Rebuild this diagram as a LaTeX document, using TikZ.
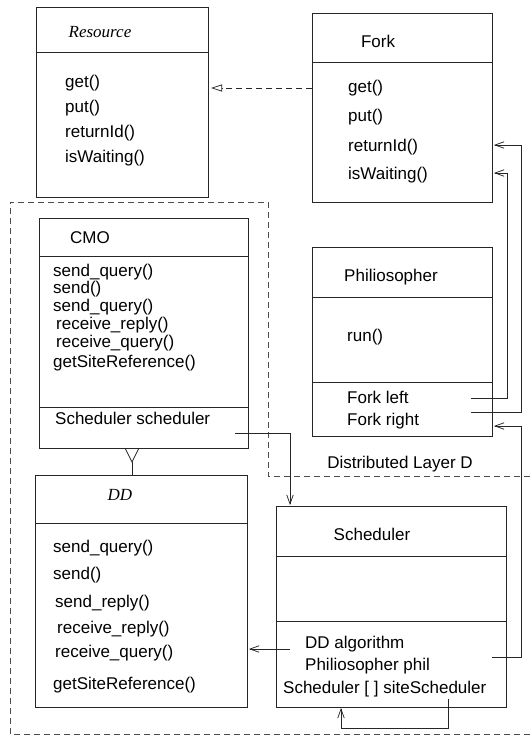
\documentclass[tikz,border=0pt]{standalone}
\usepackage{fontspec}
\setmainfont{Liberation Sans}
\newfontfamily\tmsfont{Liberation Serif}
\usetikzlibrary{arrows.meta}
\tikzset{
  ln/.style={line width=0.75pt, draw=black!85},
  classbox/.style={ln, anchor=north west, inner sep=0pt, fill=none},
  txt/.style={anchor=west, inner sep=0pt, text height=12.5pt, text depth=3.5pt, font=\fontsize{17}{20}\selectfont},
  ttl/.style={anchor=center, inner sep=0pt, text height=12.5pt, text depth=3.5pt, font=\fontsize{17}{20}\selectfont},
  ittl/.style={anchor=center, inner sep=0pt, text height=12.5pt, text depth=3.5pt, font=\fontsize{17}{20}\selectfont\tmsfont\itshape},
  barb/.style={ln, -{Straight Barb[length=9pt,width=6.5pt]}},
  realize/.style={ln, dash pattern=on 6pt off 4pt, -{Triangle[open,length=11pt,width=7pt]}},
  region/.style={line width=0.75pt, draw=black!70, dash pattern=on 6pt off 4pt},
}
\begin{document}
\begin{tikzpicture}[x=1pt,y=-1pt]
\useasboundingbox (0,0) rectangle (530,736);

% ---------- Resource ----------
\node[classbox, minimum width=172pt, minimum height=190pt] (res) at (36,7) {};
\draw[ln] (36,52) -- (208,52);
\node[ittl] (resT) at (100,33) {Resource};
\node[txt] (resA) at (65,83) {get()};
\node[txt] (resB) at (65,108) {put()};
\node[txt] (resC) at (65,133) {returnId()};
\node[txt] (resD) at (65,158) {isWaiting()};

% ---------- Fork ----------
\node[classbox, minimum width=180pt, minimum height=189pt] (fork) at (312,13) {};
\draw[ln] (312,62) -- (492,62);
\node[ttl] (forkT) at (378,43) {Fork};
\node[txt] (forkA) at (348,88) {get()};
\node[txt] (forkB) at (348,117) {put()};
\node[txt] (forkC) at (348,147) {returnId()};
\node[txt] (forkD) at (348,175) {isWaiting()};

% ---------- distributed layer region ----------
\draw[region] (530,476) -- (268,476) -- (268,202) -- (10,202) -- (10,734) -- (530,734);
\node[ttl] (layer) at (400,464) {Distributed Layer D};

% ---------- CMO ----------
\node[classbox, minimum width=209pt, minimum height=230pt] (cmo) at (39,218) {};
\draw[ln] (39,256) -- (248,256);
\draw[ln] (39,407) -- (248,407);
\node[ttl] (cmoT) at (90,239) {CMO};
\node[txt] (cmoA) at (53,272) {send\_query()};
\node[txt] (cmoB) at (53,289) {send()};
\node[txt] (cmoC) at (53,307) {send\_query()};
\node[txt] (cmoD) at (56,325) {receive\_reply()};
\node[txt] (cmoE) at (56,343) {receive\_query()};
\node[txt] (cmoF) at (53,363) {getSiteReference()};
\node[txt] (cmoG) at (55,420) {Scheduler scheduler};

% ---------- Philosopher ----------
\node[classbox, minimum width=180pt, minimum height=189pt] (phil) at (312,247) {};
\draw[ln] (312,297) -- (492,297);
\draw[ln] (312,382) -- (492,382);
\node[ttl] (philT) at (391,277) {Philiosopher};
\node[txt] (philA) at (347,337) {run()};
\node[txt] (philB) at (347,399) {Fork left};
\node[txt] (philC) at (347,421) {Fork right};

% ---------- DD ----------
\node[classbox, minimum width=212pt, minimum height=232pt] (dd) at (35,475) {};
\draw[ln] (35,523) -- (247,523);
\node[ittl] (ddT) at (120,496) {DD};
\node[txt] (ddA) at (53,548) {send\_query()};
\node[txt] (ddB) at (53,575) {send()};
\node[txt] (ddC) at (55,603) {send\_reply()};
\node[txt] (ddD) at (57,629) {receive\_reply()};
\node[txt] (ddE) at (55,653) {receive\_query()};
\node[txt] (ddF) at (53,685) {getSiteReference()};

% ---------- Scheduler ----------
\node[classbox, minimum width=230pt, minimum height=201pt] (sch) at (276,506) {};
\draw[ln] (276,556) -- (506,556);
\draw[ln] (276,621) -- (506,621);
\node[ttl] (schT) at (372,536) {Scheduler};
\node[txt] (schA) at (305,644) {DD algorithm};
\node[txt] (schB) at (305,666) {Philiosopher phil};
\node[txt] (schC) at (283,689) {Scheduler [ ] siteScheduler};

% ---------- connector end points ----------
\coordinate (forkOut) at (312,88);
\coordinate (resIn) at (211,88);
\coordinate (flS) at (471,398);
\coordinate (flC) at (507,398);
\coordinate (flE) at (494,173);
\coordinate (frS) at (471,412);
\coordinate (frC) at (521,412);
\coordinate (frE) at (494,145);
\coordinate (spS) at (492,657);
\coordinate (spC) at (521,657);
\coordinate (spE) at (494,426);
\coordinate (csS) at (235,433);
\coordinate (csC) at (290,433);
\coordinate (csE) at (290,505);
\coordinate (ddS) at (290,649);
\coordinate (ddE) at (249,649);
\coordinate (slS) at (448,699);
\coordinate (slA) at (448,728);
\coordinate (slB) at (341,728);
\coordinate (slE) at (341,708);
\coordinate (yStem) at (132,475);
\coordinate (yJoin) at (132,462);
\coordinate (yL) at (125,448);
\coordinate (yR) at (139,448);

% ---------- connectors ----------
\draw[realize] (forkOut) -- (resIn);
\draw[barb] (flS) -- (flC) -- (flC |- flE) -- (flE);
\draw[barb] (frS) -- (frC) -- (frC |- frE) -- (frE);
\draw[barb] (spS) -- (spC) -- (spC |- spE) -- (spE);
\draw[barb] (csS) -- (csC) -- (csE);
\draw[barb] (ddS) -- (ddE);
\draw[barb] (slS) -- (slA) -- (slB) -- (slE);
\draw[ln] (yStem) -- (yJoin);
\draw[ln] (yL) -- (yJoin) -- (yR);
\end{tikzpicture}
\end{document}
